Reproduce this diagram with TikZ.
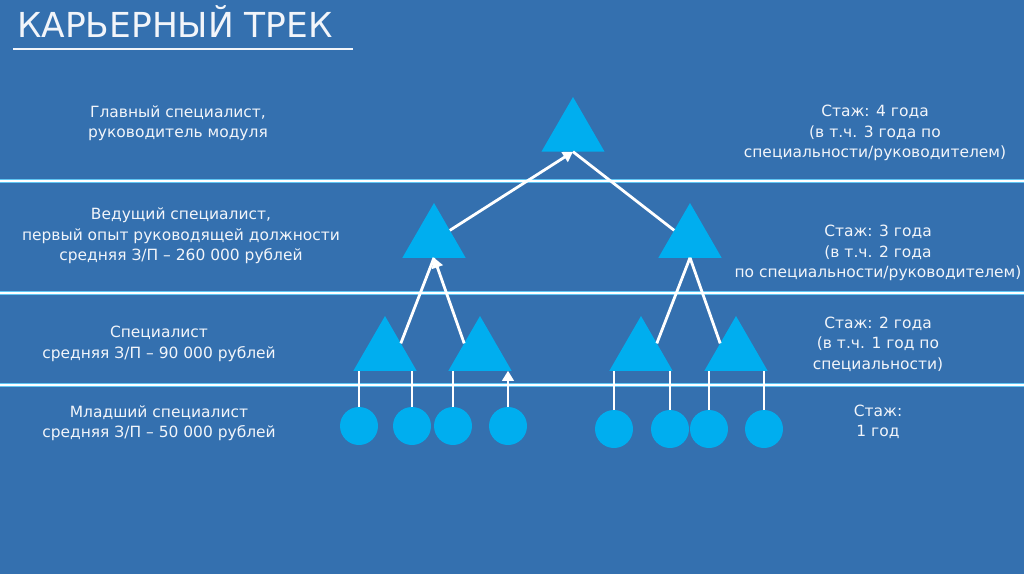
\documentclass[tikz,border=0pt]{standalone}
\usepackage{fontspec}
\setmainfont{DejaVu Sans}
\usetikzlibrary{shapes.geometric,arrows.meta}
\definecolor{bg}{RGB}{52,112,175}
\definecolor{cyanfill}{RGB}{0,174,239}
\definecolor{glow}{RGB}{95,198,244}
\definecolor{txt}{RGB}{242,245,250}
\begin{document}
\begin{tikzpicture}[x=0.75pt,y=-0.75pt,
  tri/.style={regular polygon, regular polygon sides=3, fill=cyanfill, draw=none,
    minimum size=54.75pt, inner sep=0pt, outer sep=0pt},
  dot/.style={circle, fill=cyanfill, draw=none, minimum size=28.5pt, inner sep=0pt, outer sep=0pt},
  conn/.style={draw=white, line width=2.1pt},
  arr/.style={conn, -{Triangle[width=8.5pt,length=7.5pt]}},
  lbl/.style={text=txt, font=\fontsize{11.6}{15.3}\selectfont, align=center, inner sep=0pt},
  sepglow/.style={draw=glow, line width=2.6pt},
  sepcore/.style={draw=white, line width=0.9pt}]
\useasboundingbox (0,0) rectangle (1024,574);
\fill[bg] (0,0) rectangle (1024,574);

% title
\node[anchor=base west, text=txt, inner sep=0pt, font=\fontsize{25.8}{30}\selectfont] (title) at (17,38) {КАРЬЕРНЫЙ ТРЕК};
\draw[txt, line width=1.6pt] (13,49) -- (353,49);

% separators
\foreach \yy in {181,293,385} {
  \draw[sepglow] (0,\yy) -- (1024,\yy);
  \draw[sepcore] (0,\yy) -- (1024,\yy);
}

% triangles
\node[tri] (top) at (573,133.5) {};
\node[tri] (ml) at (434,239.5) {};
\node[tri] (mr) at (690,239.5) {};
\node[tri] (l1) at (385,352.5) {};
\node[tri] (l2) at (480,352.5) {};
\node[tri] (r1) at (641,352.5) {};
\node[tri] (r2) at (736,352.5) {};

% circles
\node[dot] (c1) at (359,426) {};
\node[dot] (c2) at (412,426) {};
\node[dot] (c3) at (453,426) {};
\node[dot] (c4) at (508,426) {};
\node[dot] (c5) at (614,429) {};
\node[dot] (c6) at (670,429) {};
\node[dot] (c7) at (709,429) {};
\node[dot] (c8) at (764,429) {};

% connectors
\draw[arr] (ml.side 3) -- (top.side 2);
\draw[conn] (mr.side 1) -- (top.side 2);
\draw[conn] (l1.side 3) -- (ml.side 2);
\draw[arr] (l2.side 1) -- (ml.side 2);
\draw[conn] (r1.side 3) -- (mr.side 2);
\draw[conn] (r2.side 1) -- (mr.side 2);
\draw[conn] (c1.north) -- (c1.north |- l1.corner 2);
\draw[conn] (c2.north) -- (c2.north |- l1.corner 2);
\draw[conn] (c3.north) -- (c3.north |- l2.corner 2);
\draw[arr] (c4.north) -- (c4.north |- l2.corner 2);
\draw[conn] (c5.north) -- (c5.north |- r1.corner 2);
\draw[conn] (c6.north) -- (c6.north |- r1.corner 2);
\draw[conn] (c7.north) -- (c7.north |- r2.corner 2);
\draw[conn] (c8.north) -- (c8.north |- r2.corner 2);

% left labels
\node[lbl] (lt1) at (178,123) {Главный специалист,\\руководитель модуля};
\node[lbl] (lt2) at (181,236) {Ведущий специалист,\\первый опыт руководящей должности\\средняя З/П – 260 000 рублей};
\node[lbl] (lt3) at (159,344) {Специалист\\средняя З/П – 90 000 рублей};
\node[lbl] (lt4) at (159,423) {Младший специалист\\средняя З/П – 50 000 рублей};

% right labels
\node[lbl] (rt1) at (875,133) {Стаж: 4 года\\(в т.ч. 3 года по\\специальности/руководителем)};
\node[lbl] (rt2) at (878,253) {Стаж: 3 года\\(в т.ч. 2 года\\по специальности/руководителем)};
\node[lbl] (rt3) at (878,344) {Стаж: 2 года\\(в т.ч. 1 год по\\специальности)};
\node[lbl] (rt4) at (878,422) {Стаж:\\1 год};
\end{tikzpicture}
\end{document}
